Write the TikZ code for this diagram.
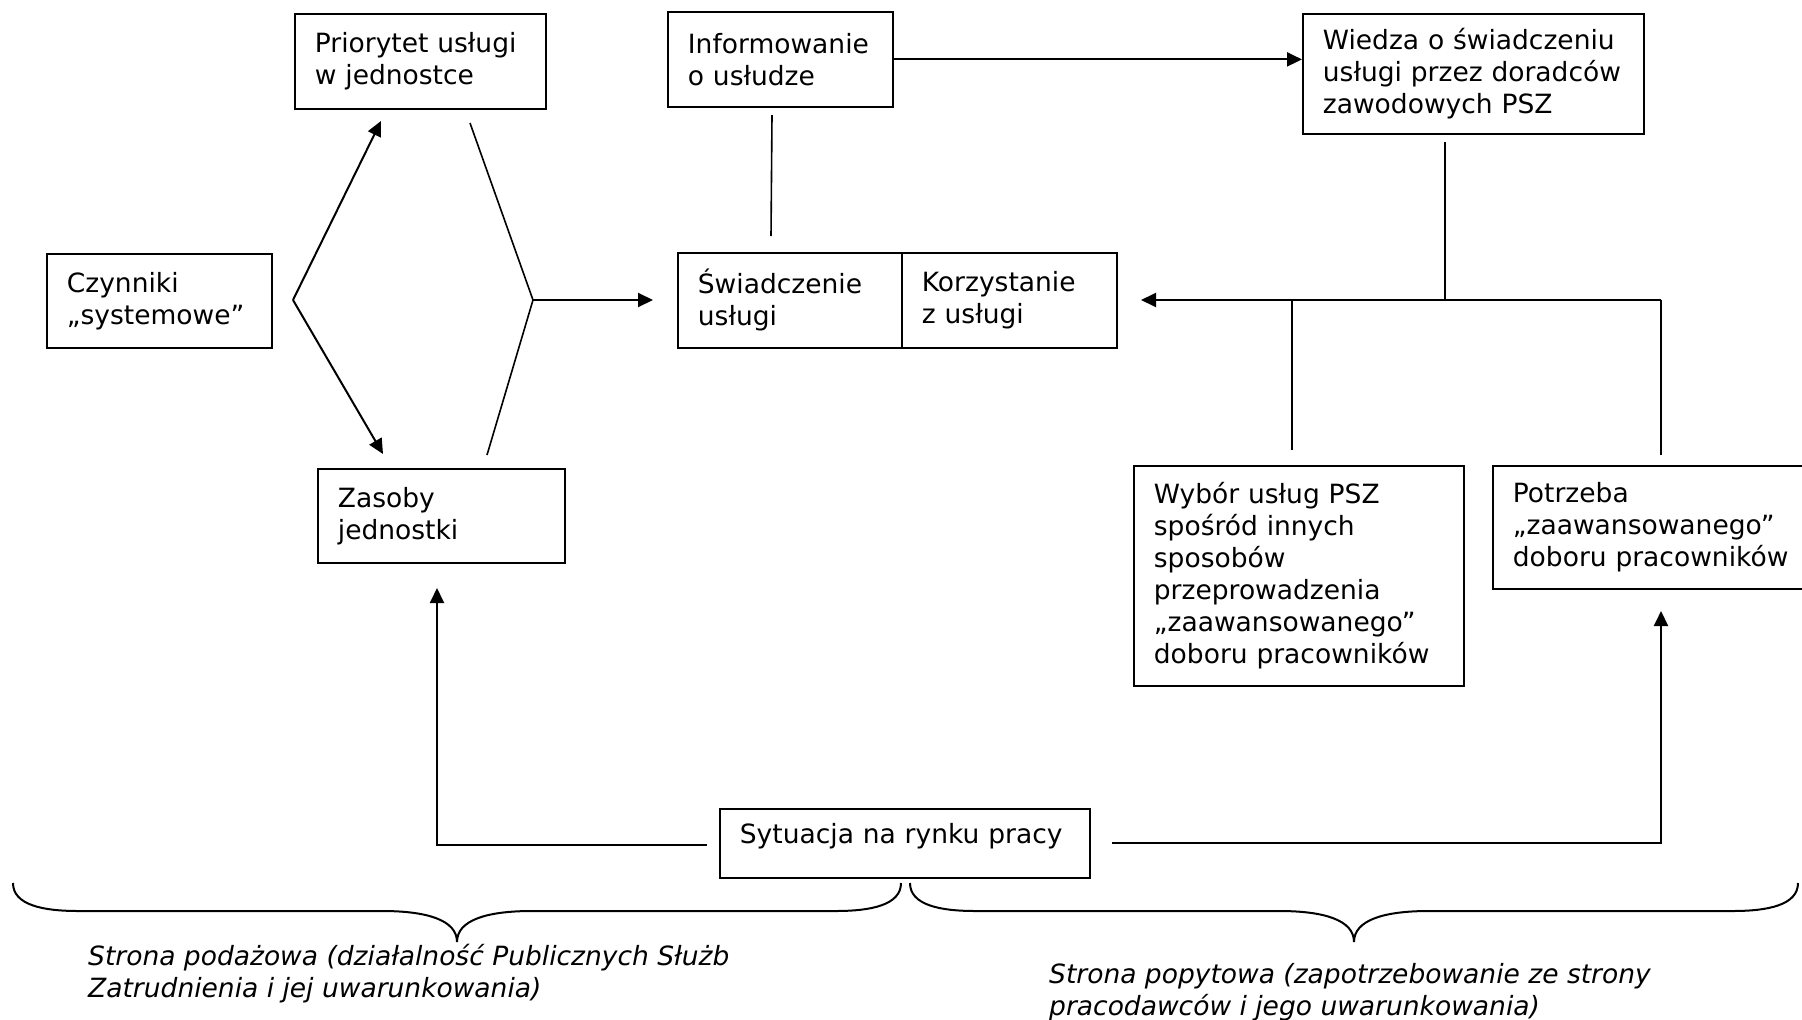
\documentclass[tikz,border=0pt]{standalone}
\usepackage{fontspec}
\setmainfont{DejaVu Sans}
\usetikzlibrary{arrows.meta,calc}
\hyphenpenalty=10000
\exhyphenpenalty=10000
\tikzset{
  box/.style={draw, line width=1.8pt, rectangle, inner xsep=20pt, inner ysep=0pt,
    align=left, font=\fontsize{26.5}{32}\selectfont, anchor=north west},
  ln/.style={line width=1.6pt},
  arr/.style={line width=2pt, -{Triangle[length=15pt,width=14pt]}},
  brace/.style={line width=2pt},
  caption/.style={align=left, anchor=west, inner sep=0pt,
    font=\fontsize{26.5}{32}\selectfont\itshape}
}
\begin{document}
\begin{tikzpicture}[x=1pt,y=-1pt]
\fill[white] (0,0) rectangle (1802,1020);
\useasboundingbox (0,0) rectangle (1802,1020);

% boxes
\node[box, text width=211pt, minimum height=95pt] (pr) at (294,13) {Priorytet usługi\\w jednostce};
\node[box, text width=185pt, minimum height=95pt] (inf) at (667,11) {Informowanie\\o usłudze};
\node[box, text width=301pt, minimum height=120pt] (wi) at (1302,13) {Wiedza o świadczeniu\\usługi przez doradców\\zawodowych PSZ};
\node[box, text width=185pt, minimum height=94pt] (cz) at (46,253) {Czynniki\\„systemowe”};
\node[box, text width=184pt, minimum height=95pt] (sw) at (677,252) {Świadczenie\\usługi};
\node[box, text width=175pt, minimum height=95pt] (ko) at (901,252) {Korzystanie\\z usługi};
\node[box, text width=207pt, minimum height=94pt] (za) at (317,468) {Zasoby\\jednostki};
\node[box, text width=290pt, minimum height=220pt] (wy) at (1133,465) {Wybór usług PSZ\\spośród innych\\sposobów\\przeprowadzenia\\„zaawansowanego”\\doboru pracowników};
\node[box, text width=300pt, minimum height=123pt] (po) at (1492,465) {Potrzeba\\„zaawansowanego”\\doboru pracowników};
\node[box, text width=330pt, minimum height=69pt, text depth=20pt] (sy) at (719,808) {Sytuacja na rynku pracy};

% chevrons
\coordinate (a1) at (293,300);
\coordinate (a1t) at (381,121);
\coordinate (a1b) at (383,454);
\coordinate (a2t) at (470,123);
\coordinate (a2) at (533,300);
\coordinate (a2b) at (487,455);
\coordinate (a2e) at (653,300);
\draw[arr] (a1) -- (a1t);
\draw[arr] (a1) -- (a1b);
\draw[ln] (a2t) -- (a2) -- (a2b);
\draw[arr] (a2) -- (a2e);

% informowanie
\coordinate (i1) at (772,115);
\coordinate (i2) at (771,236);
\draw[ln] (i1) -- (i2);
\draw[arr] (inf.east) -- (inf.east -| wi.west);

% right tree
\coordinate (w1) at (1445,142);
\coordinate (w2) at (1445,300);
\coordinate (hR) at (1661,300);
\coordinate (hL) at (1141,300);
\coordinate (v1t) at (1292,300);
\coordinate (v1b) at (1292,450);
\coordinate (v2b) at (1661,455);
\draw[ln] (w1) -- (w2);
\draw[arr] (hR) -- (hL);
\draw[ln] (v1t) -- (v1b);
\draw[ln] (hR) -- (v2b);

% sytuacja
\coordinate (s1) at (707,845);
\coordinate (s1c) at (437,845);
\coordinate (s1e) at (437,588);
\coordinate (s2) at (1112,843);
\coordinate (s2c) at (1661,843);
\coordinate (s2e) at (1661,611);
\draw[arr] (s1) -- (s1c) -- (s1e);
\draw[arr] (s2) -- (s2c) -- (s2e);

% braces
\draw[brace] (13,883) .. controls (13,905) and (43,911) .. (78,911) -- (382,911)
  .. controls (427,911) and (457,920) .. (457,942)
  .. controls (457,920) and (487,911) .. (532,911) -- (836,911)
  .. controls (871,911) and (901,905) .. (901,883);
\draw[brace] (910,883) .. controls (910,905) and (940,911) .. (975,911) -- (1279,911)
  .. controls (1324,911) and (1354,920) .. (1354,942)
  .. controls (1354,920) and (1384,911) .. (1429,911) -- (1733,911)
  .. controls (1768,911) and (1798,905) .. (1798,883);

% captions
\node[caption] (cl) at (88,974) {Strona podażowa (działalność Publicznych Służb\\Zatrudnienia i jej uwarunkowania)};
\node[caption] (cr) at (1049,992) {Strona popytowa (zapotrzebowanie ze strony\\pracodawców i jego uwarunkowania)};
\end{tikzpicture}
\end{document}
